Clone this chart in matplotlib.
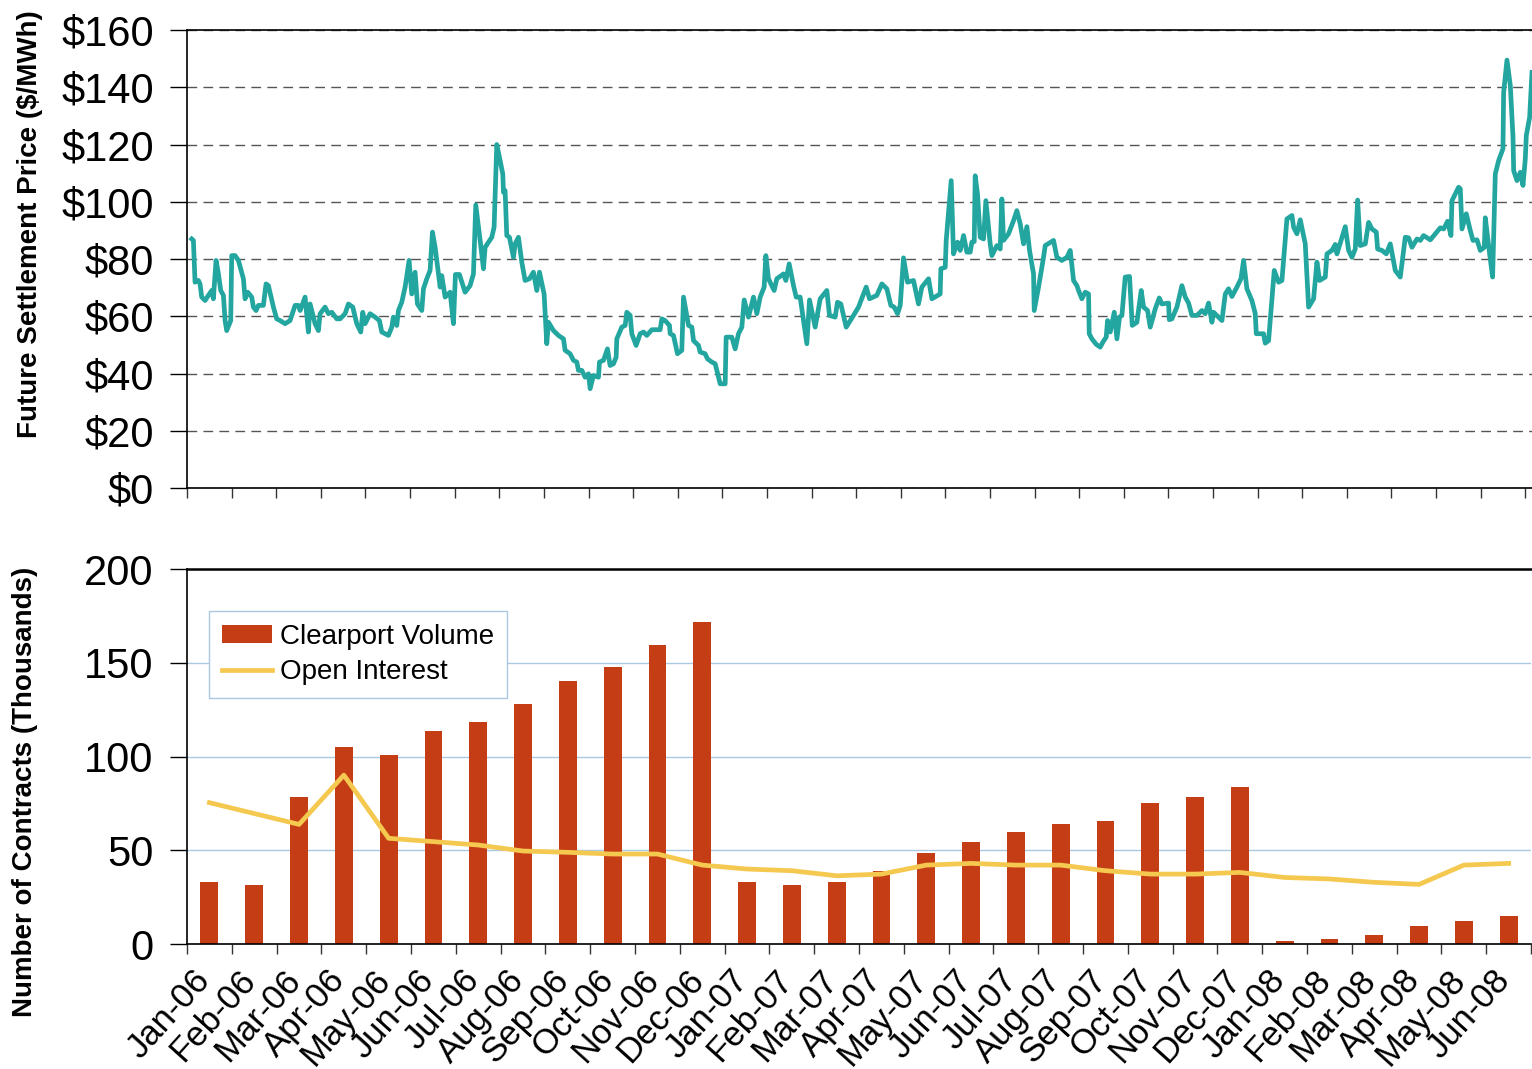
import matplotlib
matplotlib.use("Agg")
import matplotlib.pyplot as plt
from matplotlib.transforms import ScaledTranslation

plt.rcParams['font.family'] = ['Liberation Sans', 'DejaVu Sans']

# ---- monthly data (bottom panel) ----
months = ['Jan-06', 'Feb-06', 'Mar-06', 'Apr-06', 'May-06', 'Jun-06', 'Jul-06', 'Aug-06',
          'Sep-06', 'Oct-06', 'Nov-06', 'Dec-06', 'Jan-07', 'Feb-07', 'Mar-07', 'Apr-07',
          'May-07', 'Jun-07', 'Jul-07', 'Aug-07', 'Sep-07', 'Oct-07', 'Nov-07', 'Dec-07',
          'Jan-08', 'Feb-08', 'Mar-08', 'Apr-08', 'May-08', 'Jun-08']

clearport_volume = [33.1, 31.5, 78.4, 105.0, 100.8, 113.6, 118.4, 128.0, 140.3, 147.7,
                    159.5, 171.7, 33.1, 31.5, 33.1, 38.9, 48.5, 54.4, 59.7, 64.0,
                    65.6, 75.2, 78.4, 83.7, 1.6, 2.7, 4.8, 9.6, 12.3, 15.0]

open_interest = [75.4, 69.6, 63.8, 90.1, 56.4, 54.6, 52.8, 49.6, 48.9, 48.0,
                 48.0, 42.1, 40.0, 39.1, 36.4, 37.3, 42.1, 43.0, 42.1, 42.1,
                 39.1, 37.3, 37.3, 38.2, 35.5, 34.7, 32.9, 31.8, 42.1, 43.0]

# ---- daily settlement price (top panel), time in months since Jan-06 ----
price_month = [
    0.105, 0.142, 0.179, 0.254, 0.291, 0.329, 0.404, 0.478, 0.553, 0.590, 0.650, 0.703,
    0.755, 0.815, 0.852, 0.889, 0.979, 1.001, 1.076, 1.151, 1.263, 1.300, 1.360, 1.450,
    1.487, 1.547, 1.599, 1.711, 1.771, 1.824, 1.936, 2.010, 2.085, 2.197, 2.309, 2.422,
    2.496, 2.534, 2.646, 2.720, 2.758, 2.870, 2.945, 2.982, 3.094, 3.169, 3.244, 3.356,
    3.430, 3.543, 3.617, 3.715, 3.804, 3.894, 3.939, 3.991, 4.103, 4.215, 4.312, 4.365,
    4.514, 4.589, 4.626, 4.701, 4.738, 4.813, 4.888, 4.978, 5.037, 5.112, 5.164, 5.262,
    5.299, 5.374, 5.448, 5.501, 5.561, 5.673, 5.710, 5.785, 5.897, 5.972, 6.016, 6.106,
    6.233, 6.345, 6.420, 6.472, 6.570, 6.644, 6.682, 6.831, 6.883, 6.943, 7.018, 7.078,
    7.093, 7.130, 7.167, 7.227, 7.317, 7.354, 7.429, 7.504, 7.578, 7.676, 7.765, 7.840,
    7.900, 8.004, 8.064, 8.102, 8.214, 8.326, 8.438, 8.475, 8.587, 8.662, 8.737, 8.774,
    8.849, 8.924, 8.998, 9.036, 9.110, 9.223, 9.245, 9.335, 9.424, 9.484, 9.559, 9.619,
    9.634, 9.746, 9.821, 9.858, 9.933, 9.970, 10.067, 10.157,
    10.232, 10.306, 10.419, 10.605, 10.643, 10.717, 10.815, 10.830, 10.904, 10.994, 11.091,
    11.129, 11.241, 11.316, 11.353, 11.465, 11.502, 11.614, 11.667, 11.764, 11.839, 11.951,
    12.063, 12.085, 12.212, 12.287, 12.362, 12.437, 12.489, 12.586, 12.698, 12.773, 12.848,
    12.937, 12.975, 13.034, 13.161, 13.221, 13.371, 13.423, 13.498, 13.595, 13.655, 13.744,
    13.819, 13.894, 13.954, 14.081, 14.193, 14.342, 14.402, 14.529, 14.581, 14.656, 14.776,
    14.940, 15.052, 15.224, 15.299, 15.463, 15.576, 15.688, 15.777, 15.852, 15.927, 15.987,
    16.061, 16.151, 16.285, 16.397, 16.472, 16.622, 16.697, 16.883, 16.898, 16.996, 17.018,
    17.130, 17.182, 17.272, 17.332, 17.407, 17.481, 17.556, 17.593, 17.646, 17.668, 17.720,
    17.780, 17.855, 17.907, 18.004, 18.042, 18.154, 18.229, 18.266, 18.303, 18.415, 18.527,
    18.602, 18.677, 18.752, 18.827, 18.886, 18.976, 18.991, 19.088, 19.200, 19.238, 19.424,
    19.499, 19.611, 19.724, 19.798,
    19.873, 19.948, 19.985, 20.059, 20.135, 20.209, 20.224, 20.284, 20.381, 20.471, 20.531,
    20.605, 20.635, 20.695, 20.785, 20.845, 20.904, 20.957, 21.031, 21.128, 21.188, 21.293,
    21.390, 21.443, 21.532, 21.592, 21.704, 21.794, 21.854, 22.003, 22.018, 22.078, 22.190,
    22.302, 22.377, 22.451, 22.526, 22.638, 22.750, 22.825, 22.900, 22.975, 23.012, 23.199,
    23.274, 23.348, 23.423, 23.535, 23.625, 23.685, 23.759, 23.871, 23.946, 23.969, 24.133,
    24.170, 24.245, 24.372, 24.469, 24.544, 24.656, 24.768, 24.806, 24.880, 24.955, 25.067,
    25.142, 25.254, 25.329, 25.389, 25.516, 25.553, 25.665, 25.740, 25.777, 25.964, 26.039,
    26.114, 26.188, 26.241, 26.300, 26.413, 26.487, 26.562, 26.659, 26.689, 26.786, 26.883,
    26.973, 27.085, 27.197, 27.309, 27.384, 27.459, 27.571, 27.646, 27.720, 27.870, 27.982,
    28.094, 28.169, 28.258, 28.333, 28.356, 28.505, 28.543, 28.580, 28.677, 28.767, 28.827,
    28.917, 28.991, 29.081, 29.103, 29.200, 29.267, 29.327, 29.402, 29.499, 29.514, 29.589,
    29.664, 29.724, 29.739, 29.813, 29.888, 29.948, 30.000, 30.022, 30.097, 30.150]

price_usd = [
    87.0, 86.5, 71.9, 72.5, 71.3, 66.7, 65.5, 67.3, 69.0, 66.1, 79.5, 74.8,
    69.0, 67.3, 58.5, 55.0, 58.5, 81.2, 81.2, 79.5, 73.1, 66.1, 68.4, 66.7,
    63.2, 62.0, 63.8, 63.8, 71.3, 70.7, 63.2, 59.1, 58.5, 57.4, 58.5, 63.8,
    63.8, 62.0, 66.7, 54.5, 64.3, 57.4, 55.0, 60.9, 63.2, 60.9, 61.4, 59.1,
    59.1, 60.9, 64.3, 63.2, 57.4, 54.5, 61.4, 57.4, 60.9, 59.7, 58.5, 54.5,
    53.3, 56.2, 59.7, 56.8, 62.0, 64.9, 70.2, 79.5, 67.8, 75.4, 64.3, 62.0,
    69.6, 73.1, 76.0, 89.4, 84.1, 70.2, 74.2, 66.7, 68.4, 57.4, 74.6, 74.6,
    68.4, 70.7, 74.8, 98.9, 86.5, 76.6, 84.1, 87.6, 91.1, 120.0, 114.4, 109.7,
    103.3, 103.9, 88.2, 87.6, 80.6, 85.3, 87.6, 78.9, 72.5, 73.1, 75.4, 69.0,
    75.4, 67.8, 50.4, 57.9, 55.0, 53.3, 52.1, 48.1, 46.9, 44.6, 44.0, 41.1,
    41.1, 38.7, 39.9, 34.7, 39.3, 38.7, 44.0, 44.6, 48.6, 42.8, 43.4, 45.7,
    52.1, 56.2, 56.8, 61.4, 60.3, 53.9, 49.8, 53.9,
    54.5, 53.3, 55.3, 55.3, 59.1, 58.5, 56.8, 53.9, 53.3, 46.9, 48.1,
    66.7, 56.8, 56.2, 51.5, 49.8, 47.5, 46.9, 45.1, 44.0, 43.4, 36.4,
    36.4, 52.7, 52.7, 48.6, 53.9, 56.2, 65.7, 59.7, 66.7, 60.9, 66.7,
    70.2, 81.2, 73.1, 69.0, 73.1, 74.8, 72.5, 78.3, 70.7, 66.7, 66.7,
    58.5, 50.4, 65.7, 56.2, 66.1, 69.0, 60.3, 59.7, 64.9, 64.3, 56.2,
    60.3, 63.2, 70.2, 66.1, 67.3, 71.3, 69.6, 63.8, 63.2, 60.9, 63.8,
    80.4, 71.9, 72.5, 64.3, 70.2, 73.1, 66.1, 67.8, 76.6, 77.1, 86.5,
    107.4, 81.8, 85.9, 83.0, 88.2, 82.4, 82.4, 85.9, 86.1, 109.1, 102.7,
    87.6, 87.0, 100.4, 85.3, 81.2, 84.7, 83.5, 101.0, 86.5, 88.8, 93.4,
    96.9, 92.3, 85.3, 91.3, 83.0, 74.8, 62.0, 70.2, 80.6, 84.7, 86.5,
    80.6, 79.5, 80.6, 83.0,
    72.5, 70.7, 69.0, 66.1, 68.4, 67.8, 53.9, 52.1, 50.2, 49.2, 51.0,
    52.7, 58.5, 54.5, 61.4, 52.1, 59.7, 60.3, 73.7, 73.9, 56.8, 57.9,
    69.0, 63.2, 62.0, 56.2, 62.6, 66.4, 64.3, 64.6, 58.8, 59.1, 63.2,
    70.7, 66.7, 64.6, 60.3, 60.3, 62.0, 60.9, 64.6, 57.9, 61.4, 58.5,
    67.8, 69.6, 66.9, 70.2, 73.1, 79.5, 69.6, 65.5, 60.9, 53.9, 53.9,
    50.6, 51.5, 76.0, 71.9, 72.5, 94.0, 95.2, 91.1, 88.8, 93.7, 85.3,
    63.2, 66.1, 78.9, 72.5, 73.7, 81.8, 83.0, 85.1, 81.8, 91.3, 83.0,
    80.6, 83.5, 100.6, 84.7, 85.3, 92.8, 90.5, 89.4, 83.5, 83.0, 81.8,
    85.3, 76.0, 73.7, 87.6, 87.4, 84.1, 87.0, 86.5, 88.2, 86.7, 88.8,
    90.9, 90.5, 93.2, 88.2, 100.4, 105.1, 104.5, 90.5, 95.8, 89.9, 86.5,
    86.7, 83.0, 84.1, 94.4, 81.8, 73.7, 109.7, 114.4, 118.5, 138.2, 149.5,
    140.6, 122.5, 110.9, 107.4, 110.3, 105.7, 115.0, 123.1, 129.5, 145.2]

fig = plt.figure(figsize=(15.32, 10.69), dpi=100)

# ---------------- top panel: price ----------------
ax1 = fig.add_axes([0.1221, 0.5435, 0.8779, 0.4284])
ax1.plot(price_month, price_usd, color='#23A69F', lw=3.4, solid_joinstyle='round', zorder=3)
ax1.set_xlim(0, 30.15)
ax1.set_ylim(0, 160)
ax1.set_yticks(range(0, 161, 20))
ax1.set_yticklabels(['$%d' % v for v in range(0, 161, 20)])
ax1.set_xticks(range(0, 31))
ax1.set_xticklabels([])
ax1.yaxis.grid(True, color='#555555', lw=1.0, ls=(0, (7, 4.5)))
ax1.set_axisbelow(True)
ax1.spines['right'].set_visible(False)
for s in ['left', 'top', 'bottom']:
    ax1.spines[s].set_color('black')
    ax1.spines[s].set_linewidth(1.2)
ax1.tick_params(axis='y', length=12, width=1, pad=12, labelsize=30, colors='black')
ax1.tick_params(axis='x', length=7, width=1, color='#333333')

fig.text(30 / 1532, 1 - 224 / 1069, 'Future Settlement Price ($/MWh)', rotation=90,
         ha='center', va='center', fontsize=20, fontweight='bold')

# ---------------- bottom panel: volume / open interest ----------------
ax2 = fig.add_axes([0.1221, 0.1169, 0.8773, 0.3508])
x = list(range(len(months)))
bars = ax2.bar(x, clearport_volume, width=0.4, color='#C43D15', label='Clearport Volume', zorder=2)
oi_line, = ax2.plot(x, open_interest, color='#F5C850', lw=3.4, label='Open Interest', zorder=3)
ax2.set_xlim(-0.5, len(months) - 0.5)
ax2.set_ylim(0, 200)
ax2.set_yticks(range(0, 201, 50))
ax2.yaxis.grid(True, color='#A9C8E2', lw=1.0)
ax2.set_axisbelow(True)
ax2.spines['right'].set_visible(False)
for s in ['left', 'top', 'bottom']:
    ax2.spines[s].set_color('black')
    ax2.spines[s].set_linewidth(1.2)
ax2.spines['top'].set_linewidth(1.8)

ax2.set_xticks(x)
ax2.set_xticks([i - 0.5 for i in range(len(months) + 1)], minor=True)
ax2.set_xticklabels(months, rotation=48, ha='right', va='top', rotation_mode='anchor',
                    fontsize=25)
ax2.tick_params(axis='x', which='major', length=0, pad=14)
ax2.tick_params(axis='x', which='minor', length=7, width=1, color='#333333')
ax2.tick_params(axis='y', length=12, width=1, pad=12, labelsize=30, colors='black')
shift = ScaledTranslation(-17 / 100, 0, fig.dpi_scale_trans)
for lab in ax2.get_xticklabels():
    lab.set_transform(lab.get_transform() + shift)

leg = ax2.legend([bars, oi_line], ['Clearport Volume', 'Open Interest'],
                 loc='upper left', bbox_to_anchor=(0.0164, 0.888), borderaxespad=0,
                 fontsize=20, frameon=True, fancybox=False, framealpha=1,
                 edgecolor='#A9C8E2', handlelength=1.8, handleheight=0.6,
                 handletextpad=0.3, labelspacing=0.35, borderpad=0.45)
leg.get_frame().set_linewidth(1.0)

fig.text(25 / 1532, 1 - 792 / 1069, 'Number of Contracts (Thousands)', rotation=90,
         ha='center', va='center', fontsize=20, fontweight='bold')

fig.savefig('out.png', dpi=100)
